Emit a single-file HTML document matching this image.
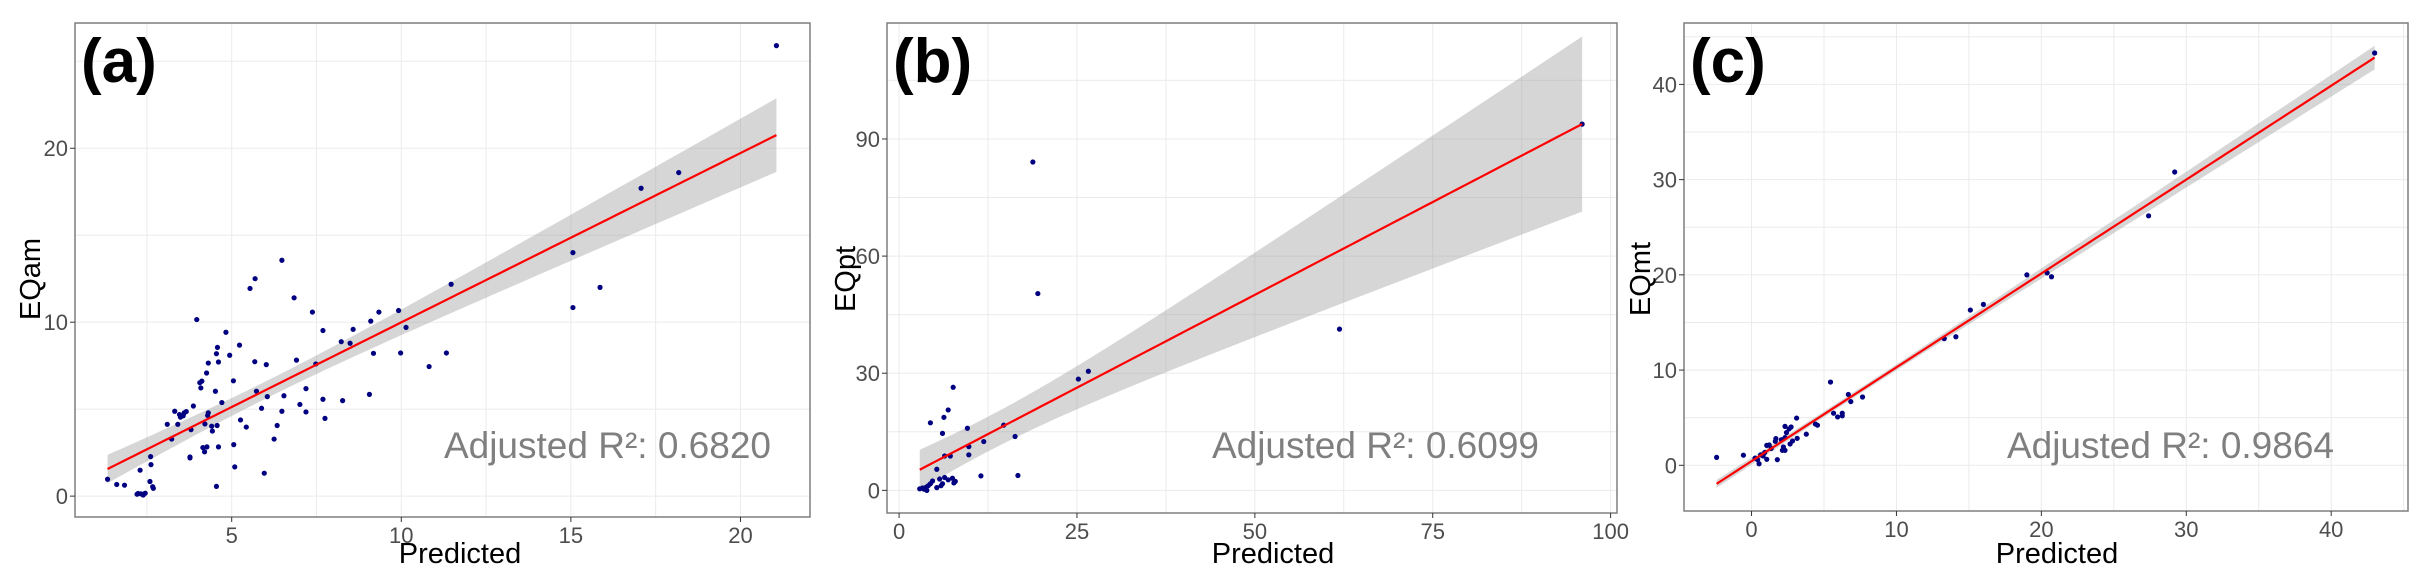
<!DOCTYPE html>
<html><head><meta charset="utf-8"><style>
html,body{margin:0;padding:0;background:#fff;}
svg{display:block;}
</style></head><body>
<svg id="fig" width="2415" height="588" viewBox="0 0 2415 588" xmlns="http://www.w3.org/2000/svg">
<rect x="0" y="0" width="2415" height="588" fill="#fff"/>
</svg>
<script>
// ---- Panel (a) data ----
const aX = [21.06,18.18,17.07,15.06,15.86,15.06,11.47,11.33,10.82,10.14,9.92,9.34,9.10,9.18,9.98,9.06,8.58,8.49,8.23,8.27,7.69,7.38,6.84,6.48,5.69,5.54,6.91,7.48,7.19,7.69,7.01,7.19,7.75,6.54,6.48,6.34,6.25,6.02,6.05,5.73,5.88,5.68,5.96,5.43,5.26,5.23,5.05,5.06,5.09,4.94,4.83,4.58,4.55,4.61,4.52,4.71,4.57,4.61,4.55,4.31,4.26,4.12,4.06,4.09,3.97,3.87,4.31,4.29,4.41,4.43,4.21,4.27,4.15,4.20,3.80,3.57,3.49,3.60,3.46,3.66,3.32,3.41,3.10,3.23,3.77,3.77,2.61,2.62,2.30,2.59,2.69,2.67,2.45,2.33,2.21,2.24,2.39,1.84,1.61,1.34];
const aY = [25.9,18.6,17.7,14.0,12.0,10.84,12.18,8.23,7.45,9.7,10.67,10.58,10.06,8.21,8.23,5.85,9.59,8.79,8.88,5.49,9.52,10.58,11.40,13.56,12.5,11.94,7.82,7.60,6.18,5.57,5.27,4.84,4.47,5.77,4.88,4.06,3.28,7.56,5.72,6.03,5.05,7.73,1.32,3.97,4.38,8.68,6.63,2.96,1.68,8.10,9.42,8.55,8.19,7.71,6.03,5.38,4.06,2.83,0.56,7.65,7.08,6.61,6.52,6.22,10.15,5.18,4.79,4.64,4.02,3.74,4.15,2.83,2.79,2.55,3.82,4.62,4.54,4.79,4.69,4.86,4.88,4.13,4.13,3.28,2.20,2.25,2.27,1.81,1.49,0.84,0.45,0.54,0.17,0.13,0.11,0.15,0.06,0.63,0.67,0.97];
const aXTicks = [5,10,15,20];
const aYTicks = [0,10,20];
const aLabel = "(a)";
const aYTitle = "EQam";
const aR2 = "0.6820";

// ---- Panel (b) data ----
const bX = [96.0,18.8,19.5,61.9,26.6,25.2,7.6,6.9,6.3,4.4,14.7,9.6,6.1,16.3,11.9,9.8,9.8,6.4,7.2,11.5,16.7,5.3,7.5,7.7,7.9,6.4,5.7,5.9,5.3,4.7,4.4,4.1,3.8,3.5,2.9,3.3,3.9,6.9,6.1];
const bY = [93.8,84.1,50.4,41.3,30.5,28.5,26.4,20.6,18.7,17.3,16.7,15.9,14.6,13.8,12.5,11.2,9.1,8.8,8.8,3.7,3.8,5.4,3.1,1.9,2.3,3.3,2.9,1.2,0.7,2.4,1.7,1.2,0.8,0.3,0.4,0.6,0.0,2.7,1.7];
const bXTicks = [0,25,50,75,100];
const bYTicks = [0,30,60,90];
const bLabel = "(b)";
const bYTitle = "EQpt";
const bR2 = "0.6099";

// ---- Panel (c) data ----
const cX = [43.0,29.2,27.4,19.0,20.4,20.7,16.0,15.1,14.1,13.3,5.45,6.68,7.66,6.85,5.66,6.26,6.26,5.94,4.55,4.41,3.78,3.11,3.15,2.73,2.59,2.31,2.41,2.31,2.83,2.66,2.20,2.13,2.31,2.06,1.68,1.64,1.22,1.05,1.36,1.78,0.91,0.80,1.05,0.63,0.42,0.24,0.52,-0.56,-2.41];
const cY = [43.3,30.8,26.2,20.0,20.2,19.8,16.9,16.3,13.5,13.3,8.74,7.44,7.17,6.69,5.47,5.47,5.2,5.08,4.21,4.33,3.27,4.96,2.83,4.02,3.82,4.09,3.43,2.91,2.56,2.24,1.93,1.57,1.57,2.68,2.80,2.52,2.13,2.09,1.77,0.59,1.34,0.98,0.63,1.10,0.59,0.75,0.16,1.06,0.83];
const cXTicks = [0,10,20,30,40];
const cYTicks = [0,10,20,30,40];
const cLabel = "(c)";
const cYTitle = "EQmt";
const cR2 = "0.9864";

const NS = "http://www.w3.org/2000/svg";
const svg = document.getElementById('fig');
function mk(tag, attrs, parent){
  const e = document.createElementNS(NS, tag);
  for (const k in attrs) e.setAttribute(k, attrs[k]);
  (parent||svg).appendChild(e);
  return e;
}
const FONT = '"Liberation Sans Narrow","Liberation Sans",sans-serif';

function drawPanel(p){
  const g = mk('g', {});
  
  
  const sx = v => p.L + (v - p.xmin) / (p.xmax - p.xmin) * (p.R - p.L);
  const sy = v => p.B - (v - p.ymin) / (p.ymax - p.ymin) * (p.B - p.T);
  // grid
  const stepX = p.xt[1]-p.xt[0], stepY = p.yt[1]-p.yt[0];
  for (let v = p.xt[0]-stepX/2; v <= p.xmax; v += stepX/2){
    if (v < p.xmin) continue;
    const ln = mk('line',{x1:sx(v),x2:sx(v),y1:p.T,y2:p.B,stroke:'#ebebeb','stroke-width':1},g);
    
    
  }
  for (let v = p.yt[0]-stepY/2; v <= p.ymax; v += stepY/2){
    if (v < p.ymin) continue;
    const ln = mk('line',{x1:p.L,x2:p.R,y1:sy(v),y2:sy(v),stroke:'#ebebeb','stroke-width':1},g);
    
    
  }
  // regression
  const xs = p.x, ys = p.y, n = xs.length;
  const mx = xs.reduce((a,b)=>a+b,0)/n, my = ys.reduce((a,b)=>a+b,0)/n;
  let sxx=0, sxy=0;
  for (let i=0;i<n;i++){ sxx += (xs[i]-mx)**2; sxy += (xs[i]-mx)*(ys[i]-my); }
  const slope = sxy/sxx, icpt = my - slope*mx;
  let sse=0; for (let i=0;i<n;i++){ sse += (ys[i]-icpt-slope*xs[i])**2; }
  const s = Math.sqrt(sse/(n-2));
  const t = 1.96 + 2.4/(n-2);
  const x0 = Math.min(...xs), x1 = Math.max(...xs);
  const up=[], lo=[], mid=[];
  for (let k=0;k<=80;k++){
    const xv = x0 + (x1-x0)*k/80;
    const yh = icpt + slope*xv;
    const se = s*Math.sqrt(1/n + (xv-mx)**2/sxx);
    up.push(sx(xv)+','+sy(yh+t*se));
    lo.unshift(sx(xv)+','+sy(yh-t*se));
    mid.push(sx(xv)+','+sy(yh));
  }
  const band = mk('polygon',{points:up.concat(lo).join(' '),fill:'#999',opacity:0.4},g);
  
  
  // points
  for (let i=0;i<n;i++){
    const c = mk('circle',{cx:sx(xs[i]),cy:sy(ys[i]),r:2.6,fill:'#000080'},g);
    
    
  }
  const fl = mk('polyline',{points:mid.join(' '),fill:'none',stroke:'#ff0000','stroke-width':2.2},g);
  
  
  // border
  const bd = mk('rect',{x:p.L,y:p.T,width:p.R-p.L,height:p.B-p.T,fill:'none',stroke:'#7f7f7f','stroke-width':1.5},g);
  
  
  // ticks
  p.xt.forEach(v=>{
    const tk = mk('line',{x1:sx(v),x2:sx(v),y1:p.B,y2:p.B+5,stroke:'#333','stroke-width':1},g);
    
    
    const tx = mk('text',{x:sx(v),y:p.B+26,'text-anchor':'middle','font-size':22,fill:'#4d4d4d','font-family':FONT},g);
    tx.textContent = v;
    
    
  });
  p.yt.forEach(v=>{
    const tk = mk('line',{x1:p.L-5,x2:p.L,y1:sy(v),y2:sy(v),stroke:'#333','stroke-width':1},g);
    
    
    const tx = mk('text',{x:p.L-7,y:sy(v)+8,'text-anchor':'end','font-size':22,fill:'#4d4d4d','font-family':FONT},g);
    tx.textContent = v;
    
    
  });
  // titles
  const xtt = mk('text',{x:p.xtX,y:563,'text-anchor':'middle','font-size':29,fill:'#000','font-family':FONT},g);
  xtt.textContent = 'Predicted';
  
  
  const ytt = mk('text',{x:0,y:0,'text-anchor':'middle','font-size':29,fill:'#000','font-family':FONT,transform:`translate(${p.ytX},279) rotate(-90)`},g);
  ytt.textContent = p.ytitle;
  
  
  const lb = mk('text',{x:p.L+6,y:82,'font-size':62,'font-weight':'bold',fill:'#000','font-family':FONT},g);
  lb.textContent = p.label;
  
  
  const an = mk('text',{x:p.annX,y:458,'text-anchor':'end','font-size':37,fill:'#7f7f7f','font-family':FONT},g);
  an.textContent = 'Adjusted R\u00B2: ' + p.r2;
  
  
}

drawPanel({name:'panel-a',x:aX,y:aY,xt:aXTicks,yt:aYTicks,label:aLabel,ytitle:aYTitle,r2:aR2,
  L:75,R:810,T:23,B:517,xmin:0.38,xmax:22.05,ymin:-1.2,ymax:27.2,xtX:460,ytX:40,annX:771});
drawPanel({name:'panel-b',x:bX,y:bY,xt:bXTicks,yt:bYTicks,label:bLabel,ytitle:bYTitle,r2:bR2,
  L:887,R:1617,T:23,B:513,xmin:-1.7,xmax:100.9,ymin:-5.8,ymax:119.7,xtX:1273,ytX:855,annX:1539});
drawPanel({name:'panel-c',x:cX,y:cY,xt:cXTicks,yt:cYTicks,label:cLabel,ytitle:cYTitle,r2:cR2,
  L:1684,R:2408,T:23,B:511,xmin:-4.66,xmax:45.3,ymin:-4.8,ymax:46.45,xtX:2057,ytX:1650,annX:2334});
</script>
</body></html>
